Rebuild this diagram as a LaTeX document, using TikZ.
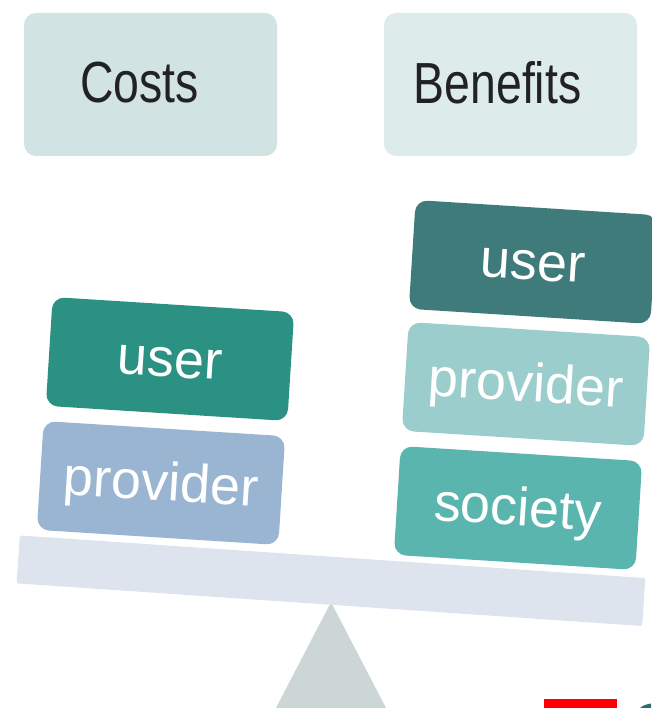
\documentclass[tikz,border=0pt]{standalone}
\usepackage{fontspec}
\newfontfamily\labelfont{Liberation Sans}
\newfontfamily\headfont[FakeStretch=0.8]{Liberation Sans}
\definecolor{costbg}{HTML}{D2E3E3}
\definecolor{benefitbg}{HTML}{DDEBEB}
\definecolor{userL}{HTML}{2B9182}
\definecolor{providerL}{HTML}{9AB5D2}
\definecolor{userR}{HTML}{3E7B7A}
\definecolor{providerR}{HTML}{9CCDCD}
\definecolor{societyR}{HTML}{5BB5AF}
\definecolor{beamcol}{HTML}{DDE4EE}
\definecolor{pivotcol}{HTML}{CDD6D7}
\definecolor{headtext}{HTML}{222222}
\definecolor{cornerteal}{HTML}{2E6F6E}
\tikzset{
  headbox/.style={rounded corners=12pt, minimum width=253pt, minimum height=143pt,
    inner sep=0pt},
  headtitle/.style={inner sep=0pt, text=headtext, font=\headfont\fontsize{58}{64}\selectfont},
  weightbox/.style={rounded corners=12pt, minimum width=242pt, minimum height=109pt,
    inner sep=0pt, rotate=-3.6, text=white, font=\labelfont\fontsize{54}{60}\selectfont},
}
% white label text, set a little low in its box (box size kept as is)
\newcommand{\weightlabel}[1]{\raisebox{-3.5pt}[\height][\depth]{#1}}
\begin{document}
\begin{tikzpicture}[x=1pt, y=-1pt]
  \useasboundingbox (0,0) rectangle (651,708);
  \fill[white] (0,0) rectangle (651,708);

  % headings
  \node[headbox, fill=costbg] (costs) at (150.5,84.5) {};
  \node[headtitle] (coststitle) at ([xshift=-11pt, yshift=2pt]costs.center) {Costs};
  \node[headbox, fill=benefitbg] (benefits) at (510.5,84.5) {};
  \node[headtitle] (benefitstitle) at ([xshift=-13pt, yshift=2pt]benefits.center) {Benefits};

  % pivot and beam
  \fill[pivotcol] (276,708) -- (329,606) .. controls (331,603) .. (333,606) -- (386,708) -- cycle;
  \node[fill=beamcol, rounded corners=2pt, minimum width=627pt, minimum height=48pt,
        inner sep=0pt, rotate=-3.9] (beam) at (331,580.7) {};

  % cost side
  \node[weightbox, fill=providerL] (costprovider) at (161,483) {\weightlabel{provider}};
  \node[weightbox, fill=userL] (costuser) at (170,359) {\weightlabel{user}};

  % benefit side
  \node[weightbox, fill=societyR] (benefitsociety) at (518,508) {\weightlabel{society}};
  \node[weightbox, fill=providerR] (benefitprovider) at (526,384) {\weightlabel{provider}};
  \node[weightbox, fill=userR] (benefituser) at (533,262) {\weightlabel{user}};

  % bottom edge marks
  \fill[red] (544,699) rectangle (617,708);
  \fill[cornerteal] (640,708) .. controls (644,705) .. (651,703.5) -- (651,708) -- cycle;
\end{tikzpicture}
\end{document}
